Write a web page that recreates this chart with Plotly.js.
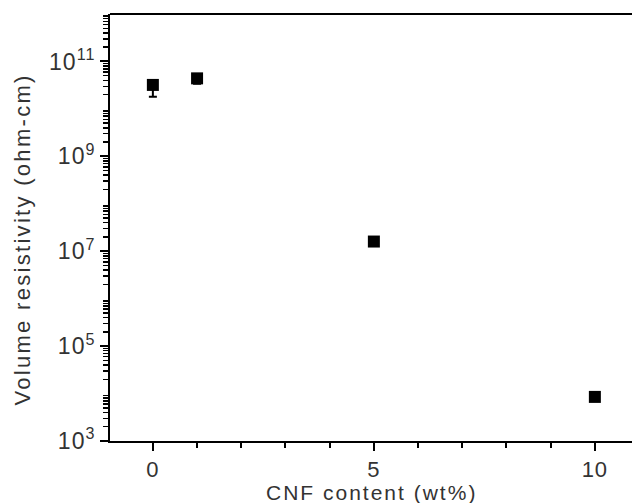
<!DOCTYPE html>
<html>
<head>
<meta charset="utf-8">
<script src="https://cdn.plot.ly/plotly-3.0.1.min.js"></script>
<style>
  html, body { margin: 0; padding: 0; background: #fff; }
  #chart { width: 632px; height: 503px; }
  .annotation[data-index="0"] .annotation-text { letter-spacing: 2.3px; }
  .annotation[data-index="1"] .annotation-text { letter-spacing: 2px; }
  .xtick text, .ytick text { letter-spacing: 1px; }
</style>
</head>
<body>
<div id="chart"></div>
<script>
// Data
const cnfContent = [0, 1, 5, 10];                 // wt%
const resistivity = [3.2e10, 4.4e10, 1.6e7, 8.5e3]; // ohm-cm
const errPlus = [0.8e10, 0.6e10, 0, 0];
const errMinus = [1.4e10, 1.0e10, 0, 0];

// Axis tick definitions
const xMajorTicks = [0, 5, 10];
const xTickLabels = ['0', '5', '10'];
const yLabelDecades = [3, 5, 7, 9, 11];
const yPlainDecades = [4, 6, 8, 10, 12];
const yTitle = 'Volume resistivity (ohm-cm)';
const xTitle = 'CNF content (wt%)';

const yTickVals = yLabelDecades.map(p => Math.pow(10, p));
const yTickText = yLabelDecades.map(p => '10<sup>' + p + '</sup>');
const yPlainVals = yPlainDecades.map(p => Math.pow(10, p));
const yMinorVals = [];
for (let p = 3; p < 12; p++) {
  for (let m = 2; m <= 9; m++) yMinorVals.push(m * Math.pow(10, p));
}

const trace = {
  x: cnfContent,
  y: resistivity,
  type: 'scatter',
  mode: 'markers',
  marker: { symbol: 'square', size: 12, color: '#000' },
  error_y: {
    type: 'data', symmetric: false,
    array: errPlus, arrayminus: errMinus,
    color: '#000', thickness: 2, width: 4
  },
  hoverinfo: 'x+y',
  showlegend: false
};

const fam = 'Liberation Sans, Arial, sans-serif';

const layout = {
  width: 632,
  height: 503,
  margin: { l: 110, r: 0, t: 14, b: 62 },
  paper_bgcolor: '#fff',
  plot_bgcolor: '#fff',
  xaxis: {
    range: [-0.97, 10.84],
    tickmode: 'array',
    tickvals: xMajorTicks,
    ticktext: xTickLabels,
    ticks: 'outside',
    ticklen: 8,
    tickwidth: 2,
    tickcolor: '#000',
    minor: { tickmode: 'linear', tick0: 0, dtick: 1, ticks: 'outside', ticklen: 5, tickwidth: 2, tickcolor: '#000' },
    showline: true,
    linecolor: '#000',
    linewidth: 2,
    mirror: false,
    showgrid: false,
    zeroline: false,
    tickfont: { family: fam, size: 22, color: '#333' }
  },
  yaxis: {
    type: 'log',
    range: [3, 12],
    tickmode: 'array',
    tickvals: yTickVals,
    ticktext: yTickText,
    ticks: 'outside',
    ticklen: 8,
    tickwidth: 2,
    tickcolor: '#000',
    minor: { tickmode: 'array', tickvals: yMinorVals, ticks: 'outside', ticklen: 5, tickwidth: 1.5, tickcolor: '#000' },
    showline: true,
    linecolor: '#000',
    linewidth: 2,
    showgrid: false,
    zeroline: false,
    tickfont: { family: fam, size: 23, color: '#333' }
  },
  yaxis2: {
    type: 'log',
    range: [3, 12],
    overlaying: 'y',
    side: 'left',
    tickmode: 'array',
    tickvals: yPlainVals,
    showticklabels: false,
    ticks: 'outside',
    ticklen: 8,
    tickwidth: 2,
    tickcolor: '#000',
    showline: false,
    showgrid: false,
    zeroline: false
  },
  annotations: [{
    text: yTitle,
    xref: 'paper', yref: 'paper',
    x: 0, y: 0.5,
    xanchor: 'center', yanchor: 'middle',
    xshift: -88, yshift: -12,
    textangle: -90,
    showarrow: false,
    font: { family: fam, size: 22, color: '#333' }
  }, {
    text: xTitle,
    xref: 'paper', yref: 'paper',
    x: 0.5, y: 0,
    xanchor: 'center', yanchor: 'middle',
    yshift: -51,
    showarrow: false,
    font: { family: fam, size: 21, color: '#333' }
  }],
  shapes: [{
    type: 'line', xref: 'paper', yref: 'paper',
    x0: 0, x1: 1, y0: 1, y1: 1,
    line: { color: '#000', width: 2 }
  }]
};

Plotly.newPlot('chart', [trace], layout, { displayModeBar: false, staticPlot: true });
</script>
</body>
</html>
